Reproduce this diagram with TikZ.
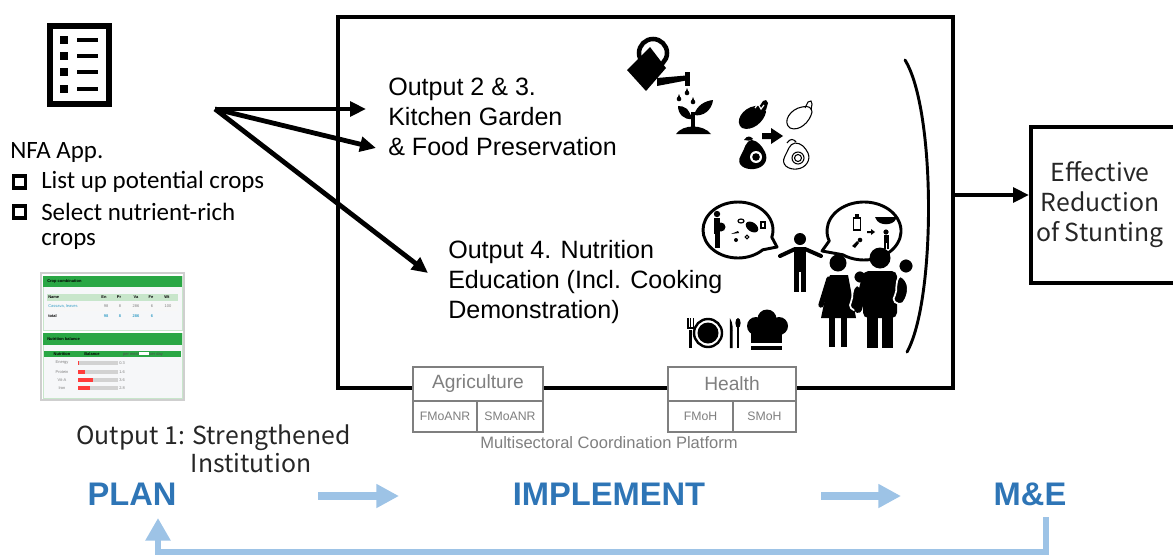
\documentclass[tikz,border=0pt]{standalone}
\usepackage{fontspec}
\setmainfont{Liberation Sans}
\newfontfamily\calfont{Carlito}
\newfontfamily\jpfont{Noto Sans CJK JP}
\usetikzlibrary{arrows.meta,calc}
\definecolor{planblue}{HTML}{2E75B6}
\definecolor{flowblue}{HTML}{9DC3E6}
\definecolor{secgray}{HTML}{7F7F7F}
\definecolor{appgreen}{HTML}{2AA745}
\definecolor{applight}{HTML}{C8E6CB}
\definecolor{appred}{HTML}{FF3B3B}
\definecolor{appbar}{HTML}{D2D2D2}
\definecolor{applink}{HTML}{3AA0C8}
\definecolor{appframe}{HTML}{CFCFCF}
\definecolor{apppanel}{HTML}{F6F7F9}
\tikzset{
  bigarrow/.style={line width=3.6pt,-{Triangle[length=12pt,width=11pt]}},
  flowarrow/.style={flowblue,line width=6pt,-{Triangle[length=17pt,width=17pt]}},
  secbox/.style={draw=secgray,line width=2.2pt,fill=white,inner sep=0pt,text=secgray},
  seclarge/.style={secbox,minimum height={34*0.75pt},font=\fontsize{14.4}{15}\selectfont},
  secsmall/.style={secbox,minimum height={31*0.75pt},font=\fontsize{9.2}{10}\selectfont},
  stagelabel/.style={text=planblue,font=\fontsize{24.5}{26}\selectfont\bfseries,inner sep=0pt},
  outtext/.style={align=left,anchor=west,inner sep=0pt,font=\fontsize{18.8}{22.5}\selectfont},
  calibritext/.style={anchor=west,inner sep=0pt,font=\calfont\fontsize{18.7}{22.5}\selectfont},
  checkbox/.style={line width=2.5pt},
  apptxt/.style={inner sep=0pt,font=\fontsize{3}{3}\selectfont},
}
\begin{document}
\begin{tikzpicture}[x=0.75pt,y=-0.75pt]
\useasboundingbox (0,0) rectangle (1173,557);

% ---------- checklist icon ----------
\draw[line width=4.5pt] (50,26) rectangle (109,104);
\foreach \yy in {40,56,72,89}{
  \fill (60,\yy-4) rectangle (68,\yy+4);
  \draw[line width=2.4pt] (77,\yy) -- (98,\yy);
}

% ---------- app description ----------
\node[calibritext] (nfa) at (10,153) {NFA App.};
\draw[checkbox] (13.5,176) rectangle (25.5,188);
\node[calibritext] (listup) at (41,182) {List up potential crops};
\draw[checkbox] (13.5,206) rectangle (25.5,218);
\node[calibritext] (select) at (41,212) {Select nutrient-rich};
\node[calibritext] (crops) at (41,241) {crops};

% ---------- app screenshot ----------
\draw[appframe,fill=white,line width=0.8pt] (41,273) rectangle (184,400);
\fill[apppanel] (43,287) rectangle (182,330);
\draw[applight,line width=0.6pt] (43,276) rectangle (182,330);
\fill[appgreen] (43,276) rectangle (182,287);
\node[apptxt,anchor=west] (cc) at (47,281.5) {\textbf{Crop combination}};
\fill[applight] (47,294) rectangle (178,301);
\node[apptxt,anchor=west] (hname) at (48,297.5) {\textbf{Name}};
\foreach \lab/\xx in {En/104,Pr/119,Va/136,Fe/151,Wt/167}{
  \node[apptxt] at (\xx,297.5) {\textbf{\lab}};
}
\fill[white!94!gray] (47,302) rectangle (178,311);
\node[apptxt,anchor=west,text=applink] (cass) at (48,306.5) {Cassava, leaves};
\foreach \lab/\xx in {98/106,8/120,286/136,6/152,100/168}{
  \node[apptxt,text=gray] at (\xx,306.5) {\lab};
}
\node[apptxt,anchor=west] (tot) at (48,316) {\textbf{total}};
\foreach \lab/\xx in {98/106,8/120,286/136,6/152}{
  \node[apptxt,text=applink] at (\xx,316) {\textbf{\lab}};
}
\fill[apppanel] (43,345) rectangle (182,398);
\draw[applight,line width=0.6pt] (43,333) rectangle (182,398);
\fill[appgreen] (43,333) rectangle (182,345);
\node[apptxt,anchor=west] (nb) at (47,339) {\textbf{Nutrition balance}};
\fill[appgreen] (44,351) rectangle (181,357);
\node[apptxt] (hnut) at (62,354) {\textbf{Nutrition}};
\node[apptxt] (hbal) at (92,354) {\textbf{Balance}};
\node[apptxt,text=black!70] (hper) at (143,354) {per meal\,\tikz[baseline]\fill[white] (0,0.2pt) rectangle (7pt,2.3pt);\,per day};
\foreach \lab/\yy/\ww/\val in {Energy/363/1/0.3,Protein/372/7/1.6,Vit-A/380/15/3.6,Iron/388/12/2.8}{
  \node[apptxt,text=gray] at (62,\yy) {\lab};
  \fill[appbar] (78,\yy-1.8) rectangle (118,\yy+2.2);
  \fill[appred] (78,\yy-1.8) rectangle (78+\ww,\yy+2.2);
  \node[apptxt,anchor=west,text=gray] at (119,\yy+0.5) {\val};
}

% ---------- output 1 ----------
\node[align=left,anchor=west,inner sep=0pt,font=\jpfont\fontsize{18.6}{21}\selectfont,text=black!85] (out1) at (76,449)
  {Output 1: Strengthened\\\hspace*{86pt}Institution};

% ---------- main activity frame ----------
\node[draw,line width=3pt,inner sep=0pt,minimum width={615*0.75pt},minimum height={371*0.75pt}] (main) at (645.5,202.5) {};

\node[outtext] (out23) at (388,116.5) {Output 2 \& 3.\\Kitchen Garden\\\& Food Preservation};
\node[outtext] (out4) at (448,282) {Output 4. Nutrition\\Education (Incl. Cooking\\Demonstration)};

% arrows from the app
\coordinate (hub) at (215,109);
\coordinate (in23a) at (366,109);
\coordinate (in23b) at (376,148);
\coordinate (in4) at (428,273);
\draw[bigarrow] (hub) -- (in23a);
\draw[bigarrow] (hub) -- (in23b);
\draw[bigarrow] (hub) -- (in4);

% grouping bracket
\draw[line width=2.2pt,line cap=round] (905,60) .. controls (936,110) and (936,300) .. (907,352);

% ---------- watering can and sprout ----------
\draw[line width=3.4pt] (653,53) circle (14);
\fill (627,70) -- (650,47) -- (666,68) -- (646,91) -- cycle;
\fill (657,78) -- (686,75.5) -- (686,80.5) -- (657,86) -- cycle;
\fill (685,72) rectangle (690,86);
\foreach \dx/\dy in {687/93,679/99,693/102}{
  \fill (\dx,\dy) circle (2.3);
  \fill (\dx-1.6,\dy-0.8) -- (\dx,\dy-5) -- (\dx+1.6,\dy-0.8) -- cycle;
}
\fill (676,134) .. controls (683,124) and (703,124) .. (711,134) -- cycle;
\draw[line width=2.6pt] (693,128) -- (693,112);
\fill (692,119) .. controls (689,108) and (684,106) .. (678,106) .. controls (678,114) and (684,120) .. (692,119);
\fill (694,115) .. controls (697,105) and (705,101) .. (713,100) .. controls (712,110) and (703,117) .. (694,115);

% ---------- food preservation ----------
% fresh eggplant
\fill (742,128) .. controls (734,122) and (742,108) .. (755,106) .. controls (761,104) and (766,108) .. (766,112)
      .. controls (764,122) and (752,132) .. (742,128) -- cycle;
\fill (759,107) -- (763,101) -- (766,100) -- (768,103) -- (766,110) -- cycle;
\draw[white,line width=0.9pt] (755,108) -- (758,104) -- (761,109) -- (764,105);
% fresh avocado
\fill (752,140) .. controls (745,141) and (745,149) .. (741,155) .. controls (735,165) and (745,170) .. (754,169)
      .. controls (764,168) and (769,160) .. (765,152) .. controls (762,146) and (758,141) .. (752,140) -- cycle;
\fill (744,140) .. controls (747,135) and (751,136) .. (753,139) .. controls (750,141) and (747,141) .. (744,140);
\fill[white] (756,157) circle (6);
\fill (756,157) circle (3.8);
% arrow
\fill (762,133) -- (771,133) -- (771,128) -- (783,136) -- (771,144) -- (771,139) -- (762,139) -- cycle;
% preserved eggplant
\draw[line width=0.8pt] (790,128) .. controls (782,122) and (790,109) .. (802,107) .. controls (808,105) and (812,108) .. (812,112)
      .. controls (810,122) and (799,132) .. (790,128) -- cycle;
\draw[line width=0.8pt] (805,108) -- (808,102) -- (811,101) -- (812,104) -- (811,110);
% preserved avocado
\draw[line width=0.8pt] (795,143) .. controls (789,144) and (788,151) .. (785,156) .. controls (780,165) and (789,170) .. (797,169)
      .. controls (806,168) and (811,160) .. (808,153) .. controls (805,147) and (801,143) .. (795,143) -- cycle;
\draw[line width=0.8pt] (798,158) circle (6);
\draw[line width=0.8pt] (798,158) circle (3.5);
\draw[line width=0.8pt] (787,143) .. controls (790,138) and (794,139) .. (796,142);

% ---------- speech bubbles ----------
\draw[line width=2.2pt,line join=round,fill=white] (738,230) ++(45:35 and 28) coordinate (b1s)
  arc[start angle=45,end angle=375,x radius=35,y radius=28] -- (777,247) -- cycle;
\draw[line width=2.2pt,line join=round,fill=white] (864,231) ++(160:37 and 29) coordinate (b2s)
  arc[start angle=160,end angle=485,x radius=37,y radius=29] -- (822,251) -- cycle;

% inside bubble 1: expectant mother and foods
\fill (717,214) circle (3.2);
\fill (714,218) rectangle (720,234);
\fill (721,227) circle (4.5);
\fill (714.5,234) rectangle (719.5,248);
\fill[rotate around={-35:(752,227)}] (752,227) ellipse [x radius=7,y radius=4.5];
\draw[line width=0.9pt] (741,221) ellipse [x radius=3,y radius=2];
\fill (736,240) circle (2);
\draw[line width=0.8pt] (747,237) circle (1.8);
\draw[line width=0.8pt] (761,222) rectangle (765,228);
\fill (731,234) -- (738,231) -- (739,233) -- cycle;

% inside bubble 2: feeding progression
\fill (855,214) rectangle (859,217);
\draw[line width=1.2pt] (853.5,218) rectangle (860.5,230);
\fill (867,231) -- (871,231) -- (871,229) -- (875,232) -- (871,235) -- (871,233) -- (867,233) -- cycle;
\fill (875,217) -- (897,217) -- (896,219) .. controls (893,226) and (879,226) .. (876,219) -- cycle;
\fill (886,232) circle (2.6);
\fill (883.5,235) rectangle (888.5,243);
\fill (884,243) rectangle (886,249);
\fill (886.5,243) rectangle (888.5,249);
\fill (860,240) circle (2.3);
\fill (852,246) -- (857,241) -- (859,243) -- (855,248) -- cycle;

% ---------- educator ----------
\fill (800,239) circle (6);
\fill (794,247) rectangle (806,272);
\draw[line width=3pt,line cap=round] (795,249) -- (780,256);
\draw[line width=3pt,line cap=round] (805,249) -- (821,256);
\fill (794,272) rectangle (799.2,292);
\fill (800.8,272) rectangle (806,292);

% ---------- mother with child ----------
\fill (838,263) circle (8.5);
\fill (830,275) -- (848,275) -- (856,318) -- (821,318) -- cycle;
\draw[line width=4pt,line cap=round] (829,279) -- (821,305);
\fill (829,318) rectangle (835,347);
\fill (841,318) rectangle (847,347);
\draw[white,line width=1.3pt,fill=black] (860,277) circle (6.5);
\draw[white,line width=1.3pt,fill=black] (857,285) .. controls (864,288) and (864,300) .. (858,310)
   .. controls (852,312) and (848,306) .. (851,302) .. controls (854,296) and (850,290) .. (857,285) -- cycle;

% ---------- father with child ----------
\fill (880,258) circle (10.5);
\fill[rounded corners=4pt] (863,271) rectangle (897,318);
\draw[line width=6pt,line cap=round] (866,277) -- (858,309);
\fill (867,316) rectangle (878,348);
\fill (882,316) rectangle (893,348);
\draw[white,line width=1.3pt,fill=black] (906,266) circle (7.5);
\draw[white,line width=1.3pt,fill=black] (900,276) .. controls (910,280) and (910,294) .. (903,303)
   .. controls (896,306) and (891,300) .. (895,295) .. controls (898,290) and (894,282) .. (900,276) -- cycle;

% ---------- tableware and chef hat ----------
\fill (689.3,330) rectangle (692.2,348);
\draw[line width=1.3pt] (688,318) -- (688,328) -- (693.5,328) -- (693.5,318);
\draw[line width=1pt] (690.75,318) -- (690.75,328);
\draw[line width=1.8pt] (708,333) circle (14);
\fill (708,333) circle (10.5);
\fill (729.8,318) .. controls (733,322) and (733,330) .. (732.5,334) -- (732.5,348) -- (729.8,348) -- cycle;
\fill (738,323) ellipse [x radius=2.6,y radius=5];
\fill (737,326) rectangle (739,348);
\fill (756,326) circle (9);
\fill (767,319) circle (9.5);
\fill (779,326) circle (9);
\fill (751,327) rectangle (782,343);
\fill (751,345.5) rectangle (782,350);

% ---------- sector platform ----------
\node[seclarge,minimum width={130*0.75pt}] (agri) at (478,384) {Agriculture};
\node[secsmall,minimum width={64*0.75pt}] (fmoanr) at (445,416.5) {FMoANR};
\node[secsmall,minimum width={66*0.75pt}] (smoanr) at (510,416.5) {SMoANR};
\node[seclarge,minimum width={128*0.75pt}] (health) at (732,384) {Health};
\node[secsmall,minimum width={65*0.75pt}] (fmoh) at (700.5,416.5) {FMoH};
\node[secsmall,minimum width={63*0.75pt}] (smoh) at (764.5,416.5) {SMoH};
\node[inner sep=0pt,text=secgray,font=\fontsize{12.4}{13}\selectfont] (msp) at (609,443) {Multisectoral Coordination Platform};

% ---------- outcome ----------
\node[draw,line width=3pt,inner sep=0pt,minimum width={160*0.75pt},minimum height={156*0.75pt}] (result) at (1111,205) {};
\node[align=center,inner sep=0pt,font=\jpfont\fontsize{18.6}{22.5}\selectfont,text=black!85] (resulttext) at (1100,205) {Effective\\Reduction\\of Stunting};
\coordinate (outlevel) at (990,195);
\draw[bigarrow] (main.east |- outlevel) -- (result.west |- outlevel);

% ---------- management cycle ----------
\node[stagelabel] (plan) at (132,494) {PLAN};
\node[stagelabel] (impl) at (609,494) {IMPLEMENT};
\node[stagelabel] (me) at (1030,494) {M\&E};
\coordinate (f1s) at (318,496);
\coordinate (f1e) at (399,496);
\coordinate (f2s) at (821,496);
\coordinate (f2e) at (901,496);
\draw[flowarrow] (f1s) -- (f1e);
\draw[flowarrow] (f2s) -- (f2e);
\coordinate (fbs) at (1046,517);
\coordinate (fbe) at (158,518);
\draw[flowblue,line width=4.6pt,-{Triangle[length=17pt,width=18pt]}] (fbs) |- (1046,552) -| (fbe);
\end{tikzpicture}
\end{document}
